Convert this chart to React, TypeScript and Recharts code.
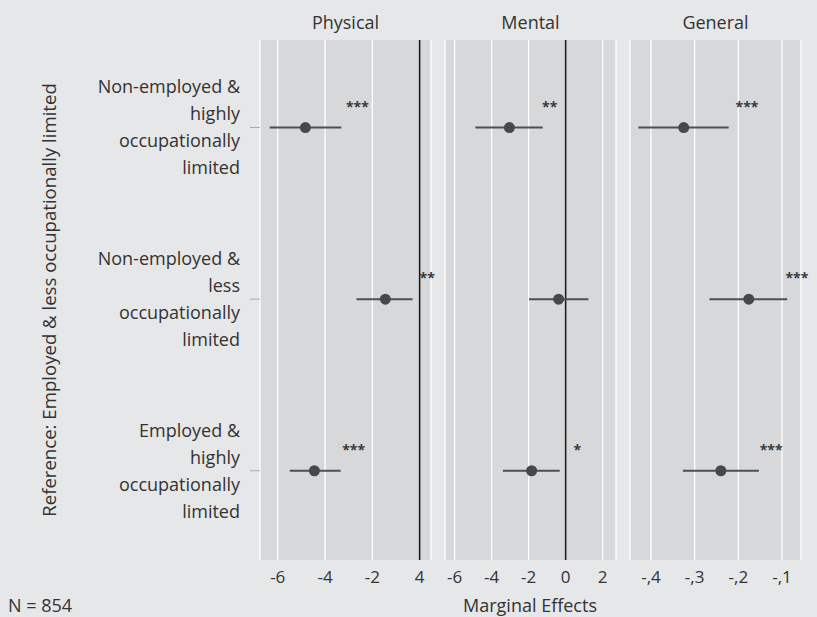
import { ScatterChart, Scatter, XAxis, YAxis, CartesianGrid, ErrorBar, ReferenceLine } from 'recharts';

// rows, top to bottom
const rows = [1, 2, 3];
const categoryLines = [
    ['Non-employed &', 'highly', 'occupationally', 'limited'],
    ['Non-employed &', 'less', 'occupationally', 'limited'],
    ['Employed &', 'highly', 'occupationally', 'limited'],
];

// Physical
const physicalEst = [-4.83, -1.45, -4.45];
const physicalLow = [-6.34, -2.67, -5.49];
const physicalHigh = [-3.31, -0.30, -3.34];
const physicalStars = ['***', '**', '***'];
const physicalStarX = [-2.63, 0.32, -2.79];
const physicalTicks = [-6, -4, -2, 0];
const physicalTickLabels = ['-6', '-4', '-2', '4'];

// Mental
const mentalEst = [-3.04, -0.38, -1.84];
const mentalLow = [-4.88, -1.98, -3.39];
const mentalHigh = [-1.24, 1.23, -0.32];
const mentalStars = ['**', '', '*'];
const mentalStarX = [-0.86, 0, 0.63];
const mentalTicks = [-6, -4, -2, 0, 2];
const mentalTickLabels = ['-6', '-4', '-2', '0', '2'];

// General
const generalEst = [-0.325, -0.176, -0.240];
const generalLow = [-0.429, -0.266, -0.327];
const generalHigh = [-0.222, -0.088, -0.153];
const generalStars = ['***', '***', '***'];
const generalStarX = [-0.180, -0.066, -0.125];
const generalTicks = [-0.4, -0.3, -0.2, -0.1];
const generalTickLabels = ['-,4', '-,3', '-,2', '-,1'];

const FONT = '"Open Sans", sans-serif';
const TEXT = '#333';
const BG = '#e6e7e9';
const PANEL = '#d7d8da';
const Y_DOMAIN: [number, number] = [0.49, 3.52];

const buildPoints = (est: number[], lo: number[], hi: number[]) =>
    rows.map((r, i) => ({ y: r, x: est[i], err: [est[i] - lo[i], hi[i] - est[i]] }));

const buildStars = (stars: string[], xs: number[]) =>
    rows.map((r, i) => ({ y: r, x: xs[i], label: stars[i] })).filter(d => d.label);

const Dot = (p: any) => <circle cx={p.cx} cy={p.cy} r={5.5} fill="#47484a" />;

const Star = (p: any) => (
    <text x={p.cx} y={p.cy - 16} textAnchor="middle" fontFamily={FONT} fontSize={14} fontWeight={700} fill="#3a3a3a">
        {p.payload.label}
    </text>
);

const makeXTick = (labels: string[]) => (p: any) => (
    <text x={p.x} y={p.y + 23} textAnchor="middle" fontFamily={FONT} fontSize={17} fill={TEXT}>
        {labels[p.index]}
    </text>
);

const YTick = (p: any) => {
    const lines = categoryLines[p.payload.value - 1] || [];
    const lh = 27;
    const start = p.y - ((lines.length - 1) * lh) / 2;
    return (
        <text x={p.x} y={start} textAnchor="end" fontFamily={FONT} fontSize={18} fill={TEXT}>
            {lines.map((l, i) => (
                <tspan key={i} x={p.x} dy={i === 0 ? '0.35em' : lh}>{l}</tspan>
            ))}
        </text>
    );
};

interface PanelProps {
    left: number;
    width: number;
    margin: { top: number; right: number; bottom: number; left: number };
    domain: [number, number];
    ticks: number[];
    tickLabels: string[];
    est: number[];
    low: number[];
    high: number[];
    stars: string[];
    starX: number[];
    showY?: boolean;
    zeroLine?: boolean;
}

function Panel(props: PanelProps) {
    const points = buildPoints(props.est, props.low, props.high);
    const starData = buildStars(props.stars, props.starX);
    return (
        <div style={{ position: 'absolute', left: props.left, top: 0 }}>
            <ScatterChart width={props.width} height={617} margin={props.margin} style={{ overflow: 'visible' }}>
                <CartesianGrid horizontal={false} stroke="#ffffff" strokeWidth={1.3} fill={PANEL} fillOpacity={1} />
                <XAxis
                    type="number"
                    dataKey="x"
                    domain={props.domain}
                    ticks={props.ticks}
                    interval={0}
                    height={57}
                    tickLine={false}
                    axisLine={false}
                    tickSize={0}
                    tickMargin={0}
                    tick={makeXTick(props.tickLabels)}
                />
                {props.showY ? (
                    <YAxis
                        type="number"
                        dataKey="y"
                        domain={Y_DOMAIN}
                        ticks={rows}
                        reversed
                        width={260}
                        axisLine={false}
                        tickSize={10}
                        tickMargin={10}
                        tickLine={{ stroke: '#a9aaac', strokeWidth: 1 }}
                        tick={<YTick />}
                    />
                ) : (
                    <YAxis type="number" dataKey="y" domain={Y_DOMAIN} reversed hide />
                )}
                {props.zeroLine && <ReferenceLine x={0} stroke="#1c1c1c" strokeWidth={1.6} />}
                <Scatter data={points} shape={Dot} isAnimationActive={false}>
                    <ErrorBar dataKey="err" direction="x" width={0} stroke="#4e4f51" strokeWidth={2} />
                </Scatter>
                <Scatter data={starData} shape={Star} isAnimationActive={false} />
            </ScatterChart>
        </div>
    );
}

export default function App() {
    return (
        <div style={{ position: 'fixed', left: 0, top: 0, width: 817, height: 617, background: BG, overflow: 'hidden' }}>
            <Panel
                left={0}
                width={440}
                margin={{ top: 40, right: 9, bottom: 0, left: 0 }}
                domain={[-6.75, 0.48]}
                ticks={physicalTicks}
                tickLabels={physicalTickLabels}
                est={physicalEst}
                low={physicalLow}
                high={physicalHigh}
                stars={physicalStars}
                starX={physicalStarX}
                showY
                zeroLine
            />
            <Panel
                left={440}
                width={185}
                margin={{ top: 40, right: 9, bottom: 0, left: 5 }}
                domain={[-6.52, 2.72]}
                ticks={mentalTicks}
                tickLabels={mentalTickLabels}
                est={mentalEst}
                low={mentalLow}
                high={mentalHigh}
                stars={mentalStars}
                starX={mentalStarX}
                zeroLine
            />
            <Panel
                left={622}
                width={195}
                margin={{ top: 40, right: 16, bottom: 0, left: 8 }}
                domain={[-0.448, -0.0565]}
                ticks={generalTicks}
                tickLabels={generalTickLabels}
                est={generalEst}
                low={generalLow}
                high={generalHigh}
                stars={generalStars}
                starX={generalStarX}
            />
            <svg width={817} height={617} style={{ position: 'absolute', left: 0, top: 0, pointerEvents: 'none' }}>
                <g fontFamily={FONT} fill={TEXT} fontSize={18}>
                    <text x={345.5} y={28.5} textAnchor="middle">Physical</text>
                    <text x={530.5} y={28.5} textAnchor="middle">Mental</text>
                    <text x={715.5} y={28.5} textAnchor="middle">General</text>
                    <text x={48} y={300} fontSize={18.6} textAnchor="middle" dominantBaseline="central" transform="rotate(-90, 48, 300)">
                        Reference: Employed &amp; less occupationally limited
                    </text>
                    <text x={530} y={612} textAnchor="middle">Marginal Effects</text>
                    <text x={8} y={612} fontWeight={500}>N = 854</text>
                </g>
            </svg>
        </div>
    );
}
